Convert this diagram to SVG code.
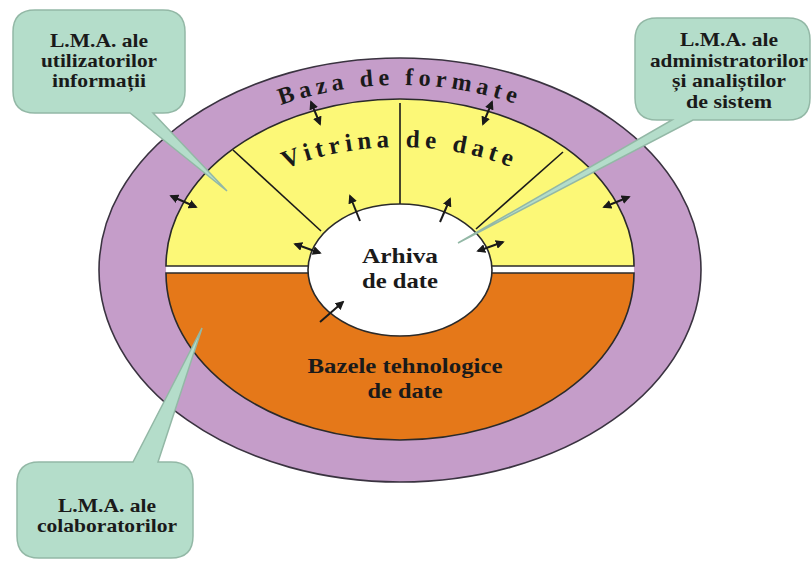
<svg xmlns="http://www.w3.org/2000/svg" width="811" height="561" viewBox="0 0 811 561">
<style>
.t{font-family:"Liberation Serif","Times New Roman",serif;font-weight:bold;fill:#1a1a1a;text-anchor:middle}
.c{font-size:19px}
.m{font-size:21px}
.ln{stroke:#1a1a1a;stroke-width:1.6;fill:none}
.ar{stroke:#1a1a1a;stroke-width:2;fill:none}
.call{fill:#B4DDCA;stroke:#93B8A6;stroke-width:1.5}
</style>
<defs>
<marker id="h" viewBox="0 0 10 10" refX="8" refY="5" markerWidth="4.5" markerHeight="4.5" orient="auto-start-reverse" markerUnits="strokeWidth">
<path d="M0,0 L10,5 L0,10 z" fill="#1a1a1a"/>
</marker>
<path id="p1" d="M138,270 A262,185 0 0 1 662,270"/>
<path id="p2" d="M198,270 A202,123 0 0 1 602,270"/>
</defs>
<rect width="811" height="561" fill="#ffffff"/>
<g id="baza-de-formate">
<ellipse cx="400" cy="270" rx="301" ry="212" fill="#C59DC9" stroke="#3a3340" stroke-width="1.6"/>
<ellipse cx="400" cy="270" rx="234" ry="167" fill="#ffffff"/>
<text class="t" font-size="24" letter-spacing="5"><textPath href="#p1" startOffset="50%">Baza de formate</textPath></text>
</g>
<g id="vitrina-de-date">
<path d="M166,266 A234,167 0 0 1 634,266 Z" fill="#FCF877" stroke="#2a2a2a" stroke-width="1.6"/>
<line class="ln" x1="400" y1="103" x2="400" y2="204"/>
<line class="ln" x1="233" y1="150" x2="321" y2="231"/>
<line class="ln" x1="563" y1="152" x2="476" y2="229"/>
<text class="t" font-size="25" letter-spacing="5"><textPath href="#p2" startOffset="50%">Vitrina de date</textPath></text>
</g>
<g id="bazele-tehnologice">
<path d="M166,273 A234,167 0 0 0 634,273 Z" fill="#E57819" stroke="#2a2a2a" stroke-width="1.6"/>
<text class="t m" x="405" y="373" textLength="195" lengthAdjust="spacingAndGlyphs">Bazele tehnologice</text>
<text class="t m" x="405" y="398" textLength="75" lengthAdjust="spacingAndGlyphs">de date</text>
</g>
<g id="arhiva-de-date">
<ellipse cx="400" cy="270" rx="92" ry="66" fill="#ffffff" stroke="#2a2a2a" stroke-width="1.6"/>
<text class="t m" x="400" y="263" textLength="76" lengthAdjust="spacingAndGlyphs">Arhiva</text>
<text class="t m" x="400" y="288" textLength="76" lengthAdjust="spacingAndGlyphs">de date</text>
</g>
<g id="connectors">
<line class="ar" x1="311" y1="102" x2="320" y2="124" marker-start="url(#h)" marker-end="url(#h)"/>
<line class="ar" x1="492" y1="102" x2="483" y2="124" marker-start="url(#h)" marker-end="url(#h)"/>
<line class="ar" x1="171" y1="196" x2="196" y2="207" marker-start="url(#h)" marker-end="url(#h)"/>
<line class="ar" x1="604" y1="207" x2="629" y2="197" marker-start="url(#h)" marker-end="url(#h)"/>
<line class="ar" x1="295" y1="244" x2="320" y2="253" marker-start="url(#h)" marker-end="url(#h)"/>
<line class="ar" x1="478" y1="251" x2="503" y2="242" marker-start="url(#h)" marker-end="url(#h)"/>
<line class="ar" x1="360" y1="221" x2="350" y2="196" marker-end="url(#h)"/>
<line class="ar" x1="440" y1="222" x2="450" y2="199" marker-end="url(#h)"/>
<line class="ar" x1="320" y1="322" x2="343" y2="302" marker-end="url(#h)"/>
</g>
<g id="callout-utilizatori">
<path class="call" d="M35,10 H163 Q185,10 185,32 V91 Q185,113 163,113 H153 L227,191 L130,113 H35 Q13,113 13,91 V32 Q13,10 35,10 Z"/>
<text class="t c" x="99" y="47" textLength="98" lengthAdjust="spacingAndGlyphs">L.M.A. ale</text>
<text class="t c" x="99" y="67" textLength="116" lengthAdjust="spacingAndGlyphs">utilizatorilor</text>
<text class="t c" x="99" y="87" textLength="94" lengthAdjust="spacingAndGlyphs">informații</text>
</g>
<g id="callout-administratori">
<path class="call" d="M657,18 H788 Q810,18 810,40 V98 Q810,120 788,120 H693 L458,243 L672,120 H657 Q635,120 635,98 V40 Q635,18 657,18 Z"/>
<text class="t c" x="729" y="46" textLength="98" lengthAdjust="spacingAndGlyphs">L.M.A. ale</text>
<text class="t c" x="729" y="67" textLength="158" lengthAdjust="spacingAndGlyphs">administratorilor</text>
<text class="t c" x="729" y="87" textLength="114" lengthAdjust="spacingAndGlyphs">și analiștilor</text>
<text class="t c" x="729" y="108" textLength="86" lengthAdjust="spacingAndGlyphs">de sistem</text>
</g>
<g id="callout-colaboratori">
<path class="call" d="M39,462 H133 L202,328 L158,462 H171 Q193,462 193,484 V536 Q193,558 171,558 H39 Q17,558 17,536 V484 Q17,462 39,462 Z"/>
<text class="t c" x="107" y="512" textLength="98" lengthAdjust="spacingAndGlyphs">L.M.A. ale</text>
<text class="t c" x="107" y="532" textLength="140" lengthAdjust="spacingAndGlyphs">colaboratorilor</text>
</g>
</svg>
